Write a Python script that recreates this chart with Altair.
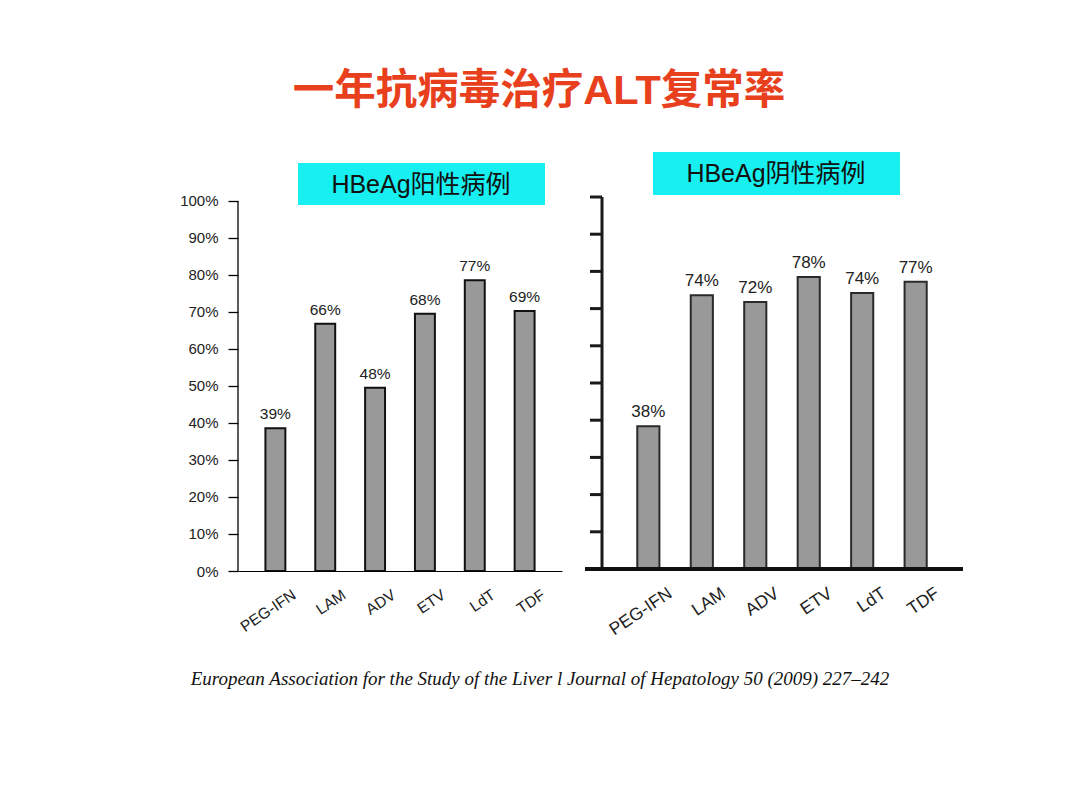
import altair as alt
import pandas as pd

# ---- data ----
drugs = ["PEG-IFN", "LAM", "ADV", "ETV", "LdT", "TDF"]
pos_values = [38.6, 66.8, 49.5, 69.5, 78.6, 70.3]
pos_labels = ["39%", "66%", "48%", "68%", "77%", "69%"]
neg_values = [38.4, 73.6, 71.8, 78.5, 74.2, 77.2]
neg_labels = ["38%", "74%", "72%", "78%", "74%", "77%"]
y_ticks = [0, 10, 20, 30, 40, 50, 60, 70, 80, 90, 100]

title_text = "一年抗病毒治疗ALT复常率"
pos_title = "HBeAg阳性病例"
neg_title = "HBeAg阴性病例"
footer_text = "European Association for the Study of the Liver l Journal of Hepatology 50 (2009) 227–242"

SANS = "Liberation Sans, Arial, Noto Sans CJK SC"
CYAN = "#17EFF0"
one = pd.DataFrame({"k": [0]})

pos_df = pd.DataFrame({"drug": drugs, "value": pos_values, "label": pos_labels})
neg_df = pd.DataFrame({"drug": drugs, "value": neg_values, "label": neg_labels})
span_df = pd.DataFrame({"lo": [min(y_ticks)], "hi": [max(y_ticks)]})
tick_df = pd.DataFrame({"t": y_ticks})

# ---------------- left panel ----------------
LW, LH = 324, 374
LDOM = [0, 101.08]
xL = alt.X("drug:N", sort=drugs,
           scale=alt.Scale(paddingInner=0.6, paddingOuter=0.55),
           axis=alt.Axis(title=None, ticks=False, domainColor="#000", domainWidth=1,
                         labelAngle=-34, labelAlign="right", labelBaseline="top",
                         labelOffset=15, labelPadding=16, zindex=1,
                         labelFont=SANS, labelFontSize=15.5, labelColor="#222"))
yL = alt.Y("value:Q", scale=alt.Scale(domain=LDOM, nice=False, zero=True),
           axis=alt.Axis(title=None, values=y_ticks, tickCount=len(y_ticks) + 1,
                         labelExpr="datum.value + '%'",
                         domain=False, tickSize=10, tickWidth=1.3, tickColor="#000",
                         labelPadding=10, labelFont=SANS, labelFontSize=15, zindex=1,
                         labelColor="#222", grid=False, labelOverlap=False))

frame = alt.Chart(one).mark_rect(fill="white", fillOpacity=0).encode(
    x=alt.value(-238), x2=alt.value(842), y=alt.value(-197), y2=alt.value(613))
title = alt.Chart(one).mark_text(text=title_text, font=SANS, fontSize=41.5, fontWeight="bold",
                                 color="#E8401C", align="center", baseline="middle").encode(
    x=alt.value(301), y=alt.value(-105))
footer = alt.Chart(one).mark_text(text=footer_text, font="Liberation Serif", fontStyle="italic",
                                  fontSize=19, color="#111", align="center",
                                  baseline="middle").encode(
    x=alt.value(302), y=alt.value(482))
boxL = alt.Chart(one).mark_rect(color=CYAN).encode(
    x=alt.value(60), x2=alt.value(307), y=alt.value(-34), y2=alt.value(8))
boxL_text = alt.Chart(one).mark_text(text=pos_title, font=SANS, fontSize=25, color="#111",
                                     align="center", baseline="middle").encode(
    x=alt.value(183), y=alt.value(-12))
yrule_L = alt.Chart(span_df).mark_rule(color="#000", strokeWidth=1.3).encode(
    x=alt.value(0), y=alt.Y("lo:Q", scale=alt.Scale(domain=LDOM, nice=False)), y2="hi:Q")
barsL = alt.Chart(pos_df).mark_bar(color="#999999", stroke="#111", strokeWidth=2).encode(x=xL, y=yL)
textL = alt.Chart(pos_df).mark_text(font=SANS, fontSize=15.5, color="#222", baseline="bottom",
                                    dy=-6).encode(x=alt.X("drug:N", sort=drugs), y="value:Q",
                                                  text="label:N")

left = alt.layer(frame, title, footer, barsL, yrule_L, textL, boxL, boxL_text).properties(
    width=LW, height=LH)

# ---------------- right panel ----------------
RW, RH = 360, 372
RDOM = [0, 100]
xR = alt.X("drug:N", sort=drugs,
           scale=alt.Scale(paddingInner=0.586, paddingOuter=0.66),
           axis=alt.Axis(title=None, ticks=False, domain=False,
                         labelAngle=-34, labelAlign="right", labelBaseline="top",
                         labelOffset=17, labelPadding=15, zindex=1,
                         labelFont=SANS, labelFontSize=17.5, labelColor="#222"))
yR = alt.Y("value:Q", scale=alt.Scale(domain=RDOM, nice=False), axis=None)
barsR = alt.Chart(neg_df).mark_bar(color="#999999", stroke="#2a2a2a", strokeWidth=2).encode(x=xR, y=yR)
textR = alt.Chart(neg_df).mark_text(font=SANS, fontSize=17, color="#222", baseline="bottom",
                                    dy=-5).encode(x=alt.X("drug:N", sort=drugs), y="value:Q",
                                                  text="label:N")
ticksR = alt.Chart(tick_df).mark_rule(color="#1a1a1a", strokeWidth=3).encode(
    x=alt.value(-12), x2=alt.value(0), y=alt.Y("t:Q", scale=alt.Scale(domain=RDOM, nice=False)))
yrule_R = alt.Chart(span_df).mark_rule(color="#1a1a1a", strokeWidth=3).encode(
    x=alt.value(0), y="lo:Q", y2="hi:Q")
base_df = pd.DataFrame({"base": [0]})
baseR = alt.Chart(base_df).mark_rule(color="#111", strokeWidth=4).encode(
    x=alt.value(-17), x2=alt.value(RW + 1), y="base:Q")
boxR = alt.Chart(one).mark_rect(color=CYAN).encode(
    x=alt.value(51), x2=alt.value(298), y=alt.value(-45), y2=alt.value(-2))
boxR_text = alt.Chart(one).mark_text(text=neg_title, font=SANS, fontSize=25, color="#111",
                                     align="center", baseline="middle").encode(
    x=alt.value(174), y=alt.value(-23))

right = alt.layer(barsR, textR, ticksR, yrule_R, baseR, boxR, boxR_text).properties(
    width=RW, height=RH)

chart = alt.hconcat(left, right, spacing=40, bounds="flush").resolve_scale(
    x="independent", y="independent").properties(
    padding=0, background="white").configure_view(stroke=None).configure_axis(grid=False)

chart.save("out.html", embed_options={"renderer": "svg", "actions": False})
